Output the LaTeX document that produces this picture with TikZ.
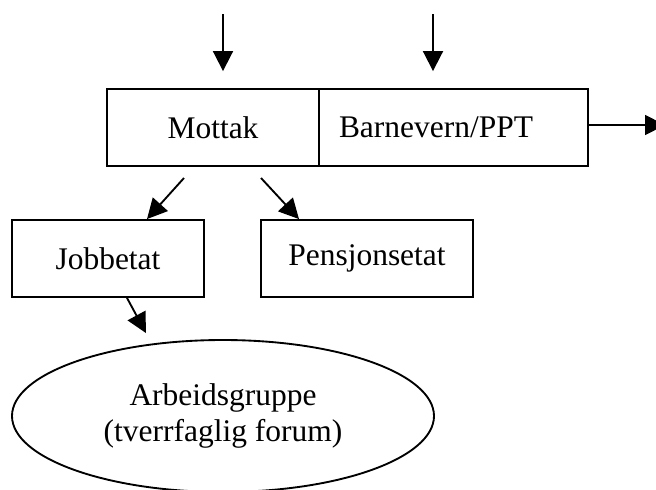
\documentclass[tikz,border=0pt]{standalone}
\usepackage{fontspec}
\setmainfont{Liberation Serif}
\usetikzlibrary{arrows.meta,calc,shapes.geometric}
\begin{document}
\begin{tikzpicture}[x=0.75pt,y=-0.75pt,
  line width=1.4pt,
  every node/.style={font=\fontsize{23.6}{27}\selectfont},
  box/.style={draw,rectangle,inner xsep=0pt,inner ysep=0pt,minimum height=57.75pt},
  arr/.style={-{Triangle[length=15pt,width=15pt]}},
]
\useasboundingbox (0,0) rectangle (656,489);
\clip (0,0) rectangle (656,489);

% two-part head box
\node[box,minimum width=159pt] (mot) at (213,127.5) {Mottak};
\node[box,text width=171.75pt,align=left,inner xsep=15pt] (bar) at (453.5,127.5) {Barnevern/PPT};

% second row
\node[box,minimum width=144pt] (job) at (108,258.5) {Jobbetat};
\node[box,minimum width=159pt] (pen) at (367,258.5) {Pensjonsetat};

% working group
\node[draw,ellipse,minimum width=316.5pt,minimum height=114pt,inner sep=0pt,align=center]
  (arb) at (223,416) {Arbeidsgruppe\\(tverrfaglig forum)};

% incoming and outgoing flows
\coordinate (inA) at (223,14);
\coordinate (inB) at (433,14);
\coordinate (out) at (665,125);
\draw[arr,shorten >=12.75pt] (inA) -- (inA |- mot.north);
\draw[arr,shorten >=12.75pt] (inB) -- (inB |- bar.north);
\draw[arr] (out -| bar.east) -- (out);

% distribution from Mottak
\coordinate (m1) at (184,178);
\coordinate (m2) at (261,178);
\draw[arr] (m1) -- ($(job.north)+(39,0)$);
\draw[arr] (m2) -- ($(pen.north)+(-68,0)$);

% Jobbetat to the working group
\draw[arr] ($(job.south)+(19,0)$) -- ($(arb.north)+(-77,-6)$);
\end{tikzpicture}
\end{document}
